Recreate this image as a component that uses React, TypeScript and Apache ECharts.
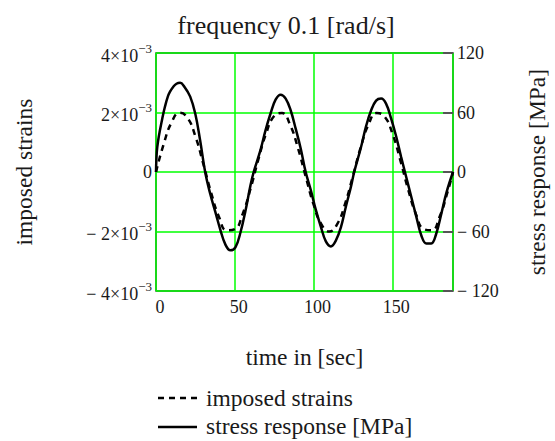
import React, { useEffect, useRef } from 'react';
import * as echarts from 'echarts';

// time [s] and imposed strain (×1e-3)
const strainT = [0, 5, 10, 15, 20, 25, 30, 35, 40, 45, 50, 55, 60, 65, 70, 75, 80, 85, 90, 95, 100, 105, 110, 115, 120, 125, 130, 135, 140, 145, 150, 155, 160, 165, 170, 175, 180, 185, 188.5];
const strainV = [0, 0.96, 1.68, 1.99, 1.82, 1.2, 0.28, -0.7, -1.51, -1.96, -1.92, -1.41, -0.56, 0.43, 1.31, 1.88, 1.98, 1.6, 0.82, -0.15, -1.09, -1.76, -2.0, -1.75, -1.07, -0.13, 0.84, 1.61, 1.98, 1.87, 1.3, 0.41, -0.58, -1.42, -1.92, -1.96, -1.5, -0.68, 0];

// time [s] and stress response [MPa]
const stressT = [0, 0.5, 1.5, 2.5, 4, 5.7, 7.5, 8.9, 11, 13, 15.3, 18, 21.7, 24.9, 28, 31.2, 34.4, 37.6, 40.8, 44, 47.2, 50.4, 53.6, 56.8, 59.9, 62, 66.3, 69.5, 72.7, 75.9, 79.1, 82.3, 85.5, 88.6, 91.8, 95, 98.2, 101.4, 104.6, 107.8, 111, 114.2, 117.3, 120.5, 123.7, 125.8, 130.1, 133.3, 136.5, 139.7, 142.9, 146, 149.2, 152.4, 155.6, 158.8, 162, 165.2, 168.4, 171.6, 174.7, 177.9, 181.1, 184.3, 188.5];
const stressV = [0, 20, 33, 42, 54, 66, 76, 81, 86, 89, 90, 86, 76, 59, 32, 0, -22, -40, -58, -73, -79, -76, -61, -39, -14, 0, 22, 42, 59, 73, 78, 74, 62, 44, 24, 0, -18, -38, -55, -70, -75, -69, -56, -35, -15, 0, 25, 46, 62, 72, 74, 69, 54, 36, 15, -5, -25, -45, -64, -72, -72, -62, -42, -21, 0];

const xTicks = [0, 50, 100, 150];
const leftTickMantissa = ['− 4×10', '− 2×10', '0', '2×10', '4×10'];
const leftTickExp = ['−3', '−3', '', '−3', '−3'];
const rightTickLabels = ['− 120', '− 60', '0', '60', '120'];

const FONT = "'Liberation Serif','Times New Roman',serif";
const TXT = '#1a1a1a';

export default function App() {
  const ref = useRef<HTMLDivElement>(null);
  useEffect(() => {
    if (!ref.current) return;
    const chart = echarts.init(ref.current, undefined, { renderer: 'svg' });
    const strainData = strainT.map((t, i) => [t, strainV[i] * 1e-3]);
    const stressData = stressT.map((t, i) => [t, stressV[i]]);
    chart.setOption({
      animation: false,
      grid: { left: 156, right: 102, top: 53, bottom: 150, show: true, borderColor: '#333', borderWidth: 1.5, containLabel: false, outerBoundsMode: 'none' },
      xAxis: {
        type: 'value', min: 0, max: 188.5, interval: 50,
        name: 'time in [sec]', nameLocation: 'middle', nameGap: 54,
        nameTextStyle: { fontFamily: FONT, fontSize: 23.5, color: TXT },
        axisLine: { show: false }, axisTick: { show: false },
        axisLabel: {
          fontFamily: FONT, fontSize: 18, color: TXT, margin: 7, padding: [0, 0, 0, 8], showMaxLabel: false,
          formatter: (v: number) => { const i = xTicks.indexOf(Math.round(v)); return i >= 0 ? String(xTicks[i]) : ''; },
        },
        splitLine: { show: true, lineStyle: { color: '#00ff00', width: 1.5 } },
      },
      yAxis: [
        {
          type: 'value', min: -4e-3, max: 4e-3, interval: 2e-3, position: 'left',
          name: 'imposed strains', nameLocation: 'middle', nameGap: 120, nameRotate: 90,
          nameTextStyle: { fontFamily: FONT, fontSize: 23.5, color: TXT },
          axisLine: { show: false }, axisTick: { show: false },
          axisLabel: {
            margin: 4,
            formatter: (v: number) => {
              const i = Math.round(v / 2e-3) + 2;
              if (leftTickExp[i] === '') return '{m|' + leftTickMantissa[i] + '}';
              return '{b|' + leftTickMantissa[i] + '}{s|' + leftTickExp[i] + '}';
            },
            rich: {
              m: { fontFamily: FONT, fontSize: 18, color: TXT },
              b: { fontFamily: FONT, fontSize: 18, color: TXT, padding: [5, 0, 0, 0], verticalAlign: 'top' },
              s: { fontFamily: FONT, fontSize: 13, color: TXT, verticalAlign: 'top' },
            },
          },
          splitLine: { show: true, lineStyle: { color: '#00ff00', width: 1.5 } },
        },
        {
          type: 'value', min: -120, max: 120, interval: 60, position: 'right',
          name: 'stress response [MPa]', nameLocation: 'middle', nameGap: 72, nameRotate: 90,
          nameTextStyle: { fontFamily: FONT, fontSize: 23.5, color: TXT },
          axisLine: { show: false },
          axisTick: { show: true, inside: true, length: 10, lineStyle: { color: '#555', width: 2 } },
          axisLabel: {
            fontFamily: FONT, fontSize: 18, color: TXT, margin: 4, padding: [3, 0, 0, 0],
            formatter: (v: number) => rightTickLabels[Math.round(v / 60) + 2] ?? '',
          },
          splitLine: { show: false },
        },
      ],
      series: [
        {
          name: 'imposed strains', type: 'line', yAxisIndex: 0, data: strainData, smooth: true,
          symbol: 'none', lineStyle: { color: '#000', width: 2.5, type: [6, 5] },
        },
        {
          name: 'stress response [MPa]', type: 'line', yAxisIndex: 1, data: stressData, smooth: 0.4,
          symbol: 'none', lineStyle: { color: '#000', width: 2.5 },
        },
      ],
      graphic: [
        { type: 'text', x: 286, y: 25, style: { text: 'frequency 0.1 [rad/s]', font: `26px ${FONT}`, fill: TXT, textAlign: 'center', textVerticalAlign: 'middle', align: 'center', verticalAlign: 'middle' } },
        { type: 'line', shape: { x1: 158, y1: 398, x2: 197, y2: 398 }, style: { stroke: '#000', lineWidth: 2.5, lineDash: [6, 5] } },
        { type: 'text', x: 206, y: 398, style: { text: 'imposed strains', font: `23.5px ${FONT}`, fill: TXT, textAlign: 'left', textVerticalAlign: 'middle', align: 'left', verticalAlign: 'middle' } },
        { type: 'line', shape: { x1: 158, y1: 427, x2: 197, y2: 427 }, style: { stroke: '#000', lineWidth: 2.5 } },
        { type: 'text', x: 206, y: 426, style: { text: 'stress response [MPa]', font: `23.5px ${FONT}`, fill: TXT, textAlign: 'left', textVerticalAlign: 'middle', align: 'left', verticalAlign: 'middle' } },
      ],
    });
    return () => chart.dispose();
  }, []);
  return <div ref={ref} style={{ position: 'absolute', left: 0, top: 0, width: 555, height: 441 }} />;
}
